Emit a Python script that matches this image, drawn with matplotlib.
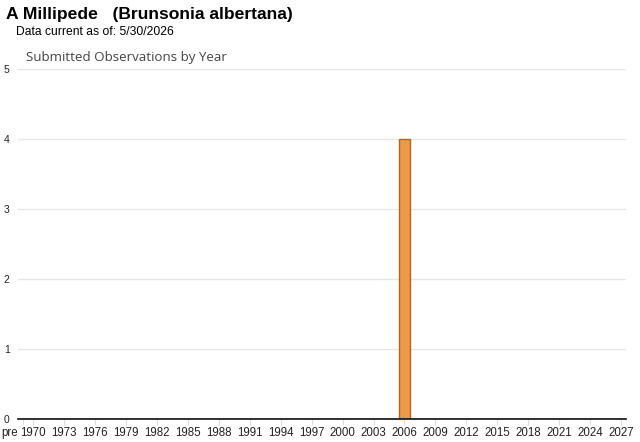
import matplotlib
matplotlib.use("Agg")
import matplotlib.pyplot as plt
from matplotlib.transforms import ScaledTranslation

categories = ["pre"] + [str(y) for y in range(1970, 2028)]
counts = [0] * len(categories)
counts[categories.index("2006")] = 4
tick_labels = ["pre"] + [str(y) for y in range(1970, 2028, 3)]
y_ticks = [0, 1, 2, 3, 4, 5]

fig = plt.figure(figsize=(6.4, 4.42), dpi=100)
ax = fig.add_axes([18/640, 1 - 419/442, (626-18)/640, (419-69)/442])

x = list(range(len(categories)))
ax.bar(x, counts, width=1.15, color="#ea9a48", edgecolor="#b5661c", linewidth=1.0, zorder=3)

ax.set_xlim(-0.5, len(categories) - 0.5)
ax.set_ylim(0, 5)
ax.set_yticks(y_ticks)
ax.set_yticklabels([str(v) for v in y_ticks], fontsize=7.5, family="Liberation Sans", color="#222222")
ax.yaxis.grid(True, color="#e6e6e6", linewidth=1, zorder=0)
ax.tick_params(axis="y", length=0, pad=6)

tick_pos = [categories.index(t) for t in tick_labels]
ax.set_xticks(tick_pos)
ax.set_xticklabels(tick_labels, fontsize=8.3, family="Liberation Sans", color="#222222")
ax.tick_params(axis="x", length=4, color="#dddddd", pad=2)

lbl = ax.get_xticklabels()[0]
lbl.set_ha("right")
lbl.set_transform(lbl.get_transform() + ScaledTranslation(-5/100, 0, fig.dpi_scale_trans))

for s in ["top", "right", "left"]:
    ax.spines[s].set_visible(False)
ax.spines["bottom"].set_color("#111111")
ax.spines["bottom"].set_linewidth(1.2)
ax.spines["bottom"].set_zorder(4)

fig.text(6/640, 1 - 15/442, "A Millipede   (Brunsonia albertana)", fontsize=12.6, fontweight="bold",
         family="Liberation Sans", va="center", ha="left", color="#000000")
fig.text(16/640, 1 - 32/442, "Data current as of: 5/30/2026", fontsize=8.7,
         family="Liberation Sans", va="center", ha="left", color="#000000")
fig.text(26/640, 1 - 58/442, "Submitted Observations by Year", fontsize=9.6,
         family="Open Sans", va="center", ha="left", color="#444444")

fig.savefig("out.png", dpi=100)
